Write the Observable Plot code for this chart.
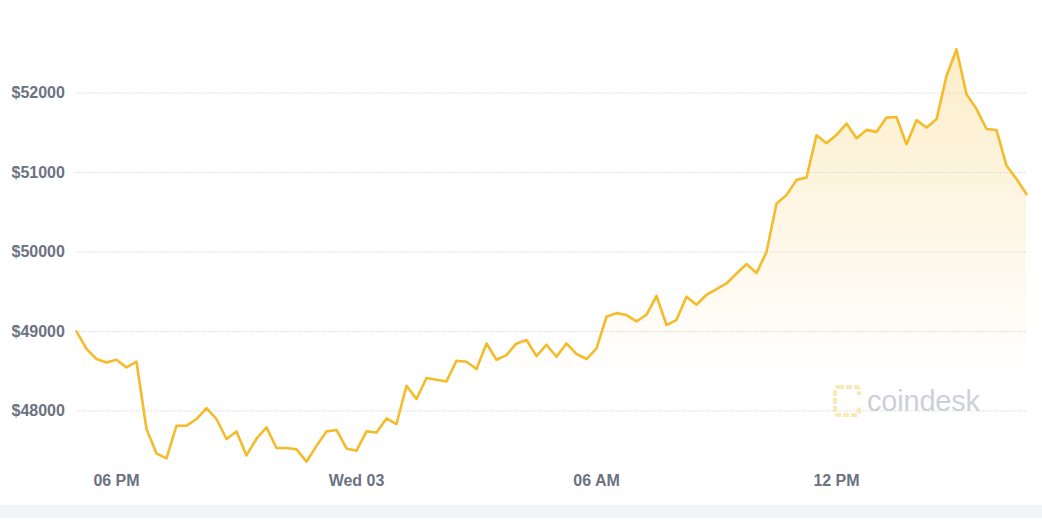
<!DOCTYPE html>
<html>
<head>
<meta charset="utf-8">
<script src="https://cdn.jsdelivr.net/npm/d3@7"></script>
<script src="https://cdn.jsdelivr.net/npm/@observablehq/plot@0.6"></script>
<style>
  html, body { margin: 0; padding: 0; background: #ffffff; }
  #wrap { position: relative; width: 1042px; }
  #band { height: 13px; background: #f2f5f8; }
  #mark { position: absolute; left: 832px; top: 384px; display: flex; align-items: center; pointer-events: none; }
  #mark span { font-family: "Liberation Sans", Arial, sans-serif; font-size: 29px; color: #cdd0d6; margin-left: 5px; letter-spacing: -0.2px; }
</style>
</head>
<body>
<div id="wrap">
  <div id="chart"></div>
  <div id="mark">
    <svg width="30" height="34" viewBox="0 0 30 34">
      <rect x="3" y="3" width="24" height="28" rx="3" fill="none" stroke="#fbe8b6" stroke-width="4" stroke-dasharray="6 2"/>
      <rect x="20" y="11" width="10" height="12" fill="#ffffff"/>
    </svg>
    <span>coindesk</span>
  </div>
  <div id="band"></div>
</div>
<script>
// ---- data ----
const startTime = "2021-03-02T17:00:00Z";
const stepMinutes = 15;
const prices = [
  49000, 48780, 48653, 48610, 48644, 48547, 48619, 47772, 47465, 47403,
  47814, 47814, 47898, 48036, 47898, 47646, 47742, 47440, 47650, 47792,
  47533, 47533, 47516, 47361, 47560, 47742, 47760, 47528, 47499, 47742,
  47729, 47906, 47835, 48317, 48150, 48414, 48392, 48371, 48631, 48619,
  48527, 48849, 48644, 48703, 48849, 48892, 48690, 48833, 48682, 48849,
  48716, 48653, 48786, 49185, 49231, 49206, 49126, 49210, 49449, 49080,
  49147, 49437, 49336, 49462, 49533, 49604, 49730, 49848, 49735, 50000,
  50610, 50716, 50908, 50937, 51470, 51370, 51475, 51617, 51432, 51537,
  51512, 51692, 51700, 51357, 51660, 51567, 51672, 52216, 52553, 51987,
  51799, 51548, 51535, 51088, 50918, 50730
];
const yTicks = [48000, 49000, 50000, 51000, 52000];
const yDomain = [47250, 52700];
const xTickTimes = ["2021-03-02T18:00:00Z", "2021-03-03T00:00:00Z", "2021-03-03T06:00:00Z", "2021-03-03T12:00:00Z"];
const xTickLabels = ["06 PM", "Wed 03", "06 AM", "12 PM"];

// ---- build table ----
const t0 = new Date(startTime).getTime();
const data = prices.map((p, i) => ({ time: new Date(t0 + i * stepMinutes * 60000), price: p }));
const xTicks = xTickTimes.map(s => new Date(s));
const labelOf = d => xTickLabels[xTicks.findIndex(t => t.getTime() === d.getTime())];

const font = '"Liberation Sans", Arial, sans-serif';

const gradientDefs = () => {
  const defs = d3.create("svg:defs");
  const g = defs.append("linearGradient").attr("id", "fillGrad").attr("x1", 0).attr("x2", 0).attr("y1", 0).attr("y2", 1);
  g.append("stop").attr("offset", "0%").attr("stop-color", "#f8d57e").attr("stop-opacity", 0.42);
  g.append("stop").attr("offset", "78%").attr("stop-color", "#f8d57e").attr("stop-opacity", 0);
  return defs.node();
};

const chart = Plot.plot({
  width: 1042,
  height: 505,
  marginLeft: 76,
  marginRight: 16,
  marginTop: 37,
  marginBottom: 35,
  style: { fontFamily: font, background: "#ffffff", overflow: "visible" },
  x: { type: "time", domain: [data[0].time, data[data.length - 1].time] },
  y: { domain: yDomain },
  marks: [
    gradientDefs,
    Plot.gridY(yTicks, { stroke: "#d8d8d8", strokeOpacity: 1, strokeDasharray: "1.5,1.5", strokeWidth: 1 }),
    Plot.areaY(data, { x: "time", y1: yDomain[0], y2: "price", fill: "url(#fillGrad)" }),
    Plot.lineY(data, { x: "time", y: "price", stroke: "#f4bb2b", strokeWidth: 2.6, strokeLinejoin: "round" }),
    Plot.axisY(yTicks, {
      tickSize: 0, tickPadding: 0, textAnchor: "start", dx: -65,
      tickFormat: d => "$" + d, fill: "#6b7282", fontSize: 16, fontWeight: "bold", label: null
    }),
    Plot.axisX(xTicks, {
      tickSize: 0, tickPadding: 4, tickFormat: labelOf,
      fill: "#6b7282", fontSize: 16, fontWeight: "bold", label: null
    })
  ]
});
document.getElementById("chart").appendChild(chart);
</script>
</body>
</html>
